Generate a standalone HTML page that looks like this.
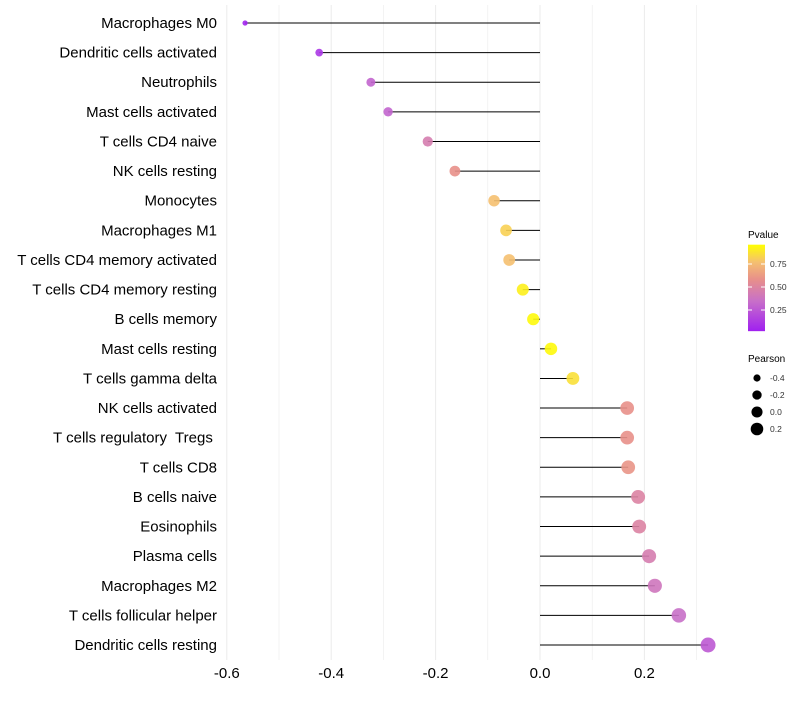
<!DOCTYPE html>
<html><head><meta charset="utf-8"><style>
body{margin:0;background:#fff;font-family:"Liberation Sans",sans-serif}
</style></head><body>
<svg id="chart" width="800" height="700" font-family="Liberation Sans, sans-serif"></svg>
<script>
const categories=["Macrophages M0","Dendritic cells activated","Neutrophils","Mast cells activated","T cells CD4 naive","NK cells resting","Monocytes","Macrophages M1","T cells CD4 memory activated","T cells CD4 memory resting","B cells memory","Mast cells resting","T cells gamma delta","NK cells activated","T cells regulatory  Tregs ","T cells CD8","B cells naive","Eosinophils","Plasma cells","Macrophages M2","T cells follicular helper","Dendritic cells resting"];
const pearson=[-0.565,-0.423,-0.324,-0.291,-0.215,-0.163,-0.088,-0.065,-0.059,-0.033,-0.013,0.021,0.063,0.167,0.167,0.169,0.188,0.19,0.209,0.22,0.266,0.322];
const pvalue=[0.02,0.1,0.3,0.3,0.45,0.6,0.8,0.85,0.8,0.95,0.98,0.98,0.9,0.6,0.6,0.62,0.5,0.5,0.45,0.4,0.35,0.25];
const xTicks=[-0.6,-0.4,-0.2,0.0,0.2];
const legendP=[0.25,0.50,0.75];
const legendSize=[-0.4,-0.2,0.0,0.2];
const svg=document.getElementById('chart');const NS="http://www.w3.org/2000/svg";
function el(t,a,p){const e=document.createElementNS(NS,t);for(const k in a)e.setAttribute(k,a[k]);(p||svg).appendChild(e);return e;}
const X=v=>540+v*522;const Y=i=>23+i*29.62;
const R=v=>Math.sqrt(Math.max(3,38+55*v));
const stops=[[0,[160,32,240]],[0.35,[200,112,200]],[0.6,[232,144,138]],[0.8,[245,192,112]],[1,[255,255,0]]];
function col(p){for(let i=1;i<stops.length;i++){if(p<=stops[i][0]){const a=stops[i-1],b=stops[i],t=(p-a[0])/(b[0]-a[0]);return 'rgb('+a[1].map((c,j)=>Math.round(c+(b[1][j]-c)*t)).join(',')+')';}}return 'rgb(255,255,0)';}
for(let v=-0.6;v<=0.35;v+=0.1){const g=el('line',{x1:X(v),x2:X(v),y1:5,y2:660,stroke:'#ebebeb','stroke-width':Math.abs(Math.round(v*10))%2==0?1:0.6});
}
xTicks.forEach(t=>{const e=el('text',{x:X(t),y:678,'text-anchor':'middle','font-size':15,fill:'#000'});e.textContent=t.toFixed(1);
});
categories.forEach((c,i)=>{const t=el('text',{x:217,y:Y(i)+5,'text-anchor':'end','font-size':15,fill:'#000',style:'white-space:pre'});t.textContent=c;

const l=el('line',{x1:X(0),x2:X(pearson[i]),y1:Y(i),y2:Y(i),stroke:'#000','stroke-width':1});

const d=el('circle',{cx:X(pearson[i]),cy:Y(i),r:R(pearson[i]),fill:col(pvalue[i]),'fill-opacity':0.9});
});
const tt=el('text',{x:748,y:238,'font-size':10});tt.textContent='Pvalue';

const defs=el('defs',{});const gr=el('linearGradient',{id:'pg',x1:0,y1:1,x2:0,y2:0},defs);
stops.forEach(s=>el('stop',{offset:s[0],'stop-color':col(s[0])},gr));
const py=p=>333-p*92;
const bar=el('rect',{x:748,y:py(0.96),width:17,height:py(0.02)-py(0.96),fill:'url(#pg)'});

legendP.forEach(p=>{el('line',{x1:748,x2:752,y1:py(p),y2:py(p),stroke:'#fff'});el('line',{x1:761,x2:765,y1:py(p),y2:py(p),stroke:'#fff'});
const t=el('text',{x:770,y:py(p)+3,'font-size':8.5,fill:'#333'});t.textContent=p.toFixed(2);
});
const st=el('text',{x:748,y:362,'font-size':10});st.textContent='Pearson';

legendSize.forEach((v,i)=>{const y=378+i*17;const c=el('circle',{cx:757,cy:y,r:R(v)*0.9,fill:'#000'});

const t=el('text',{x:770,y:y+3,'font-size':8.5,fill:'#333'});t.textContent=v.toFixed(1);
});
</script>
</body></html>
